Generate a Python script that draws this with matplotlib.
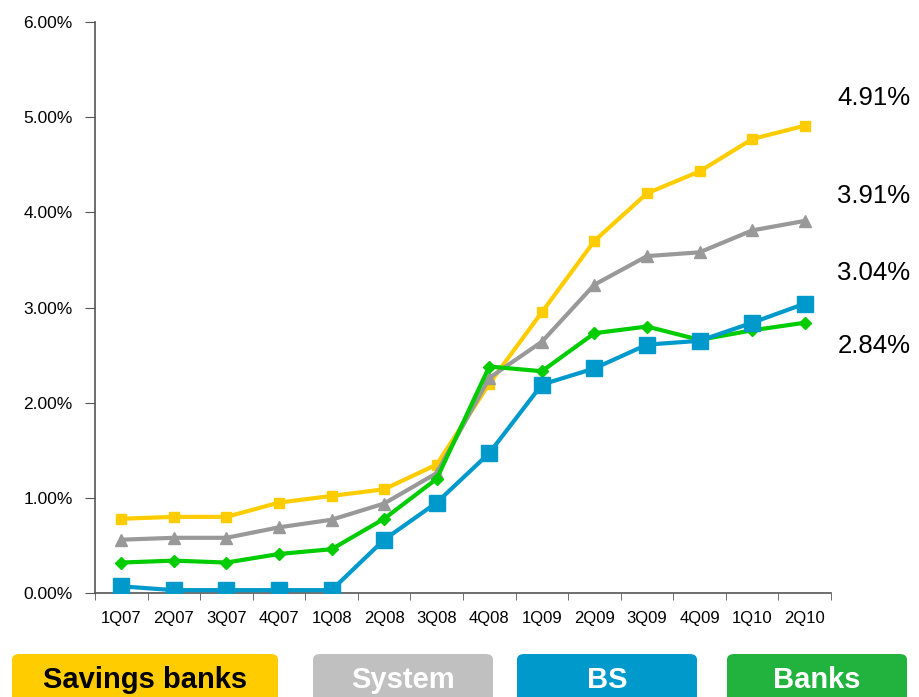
import matplotlib.pyplot as plt
import matplotlib.ticker as plticker
from matplotlib.patches import FancyBboxPatch

quarters = ['1Q07', '2Q07', '3Q07', '4Q07', '1Q08', '2Q08', '3Q08', '4Q08',
            '1Q09', '2Q09', '3Q09', '4Q09', '1Q10', '2Q10']

savings_banks = [0.78, 0.80, 0.80, 0.95, 1.02, 1.09, 1.35, 2.20, 2.95, 3.70, 4.20, 4.43, 4.77, 4.91]
system = [0.56, 0.58, 0.58, 0.69, 0.77, 0.94, 1.26, 2.26, 2.64, 3.24, 3.54, 3.58, 3.81, 3.91]
banks = [0.32, 0.34, 0.32, 0.41, 0.46, 0.78, 1.20, 2.38, 2.33, 2.73, 2.80, 2.66, 2.76, 2.84]
bs = [0.07, 0.03, 0.03, 0.03, 0.03, 0.56, 0.95, 1.47, 2.19, 2.36, 2.61, 2.65, 2.84, 3.04]

plt.rcParams['font.family'] = ['Liberation Sans', 'DejaVu Sans']

W, H = 919, 697
fig = plt.figure(figsize=(W / 100, H / 100), dpi=100)
ax = fig.add_axes([95 / W, 1 - 593 / H, (831 - 95) / W, (593 - 22) / H])

xs = range(len(quarters))
ax.plot(xs, savings_banks, color='#FFCC00', lw=3, marker='s', ms=7, zorder=3)
ax.plot(xs, system, color='#999999', lw=3, marker='^', ms=8.5, zorder=4)
ax.plot(xs, banks, color='#00CC00', lw=3, marker='D', ms=6, zorder=5)
ax.plot(xs, bs, color='#0099CC', lw=3, marker='s', ms=11.5, zorder=6)

# end-of-period values to the right of the plot
end_rows = [(savings_banks[-1], 98), (system[-1], 196), (bs[-1], 273), (banks[-1], 346)]
for val, py in end_rows:
    fig.text(874 / W, 1 - py / H, f'{val:.2f}%', fontsize=18.5,
             ha='center', va='center')

ax.set_xlim(-0.5, len(quarters) - 0.5)
ax.set_ylim(0, 6)
ax.set_xticks(list(xs))
ax.set_xticklabels(quarters, fontsize=12)
ax.xaxis.set_minor_locator(plticker.FixedLocator([i + 0.5 for i in range(-1, len(quarters))]))
ax.tick_params(axis='x', which='major', length=0, pad=13)
ax.tick_params(axis='x', which='minor', length=5, color='#555555')
ax.yaxis.set_major_locator(plticker.MultipleLocator(1))
ax.yaxis.set_major_formatter(plticker.FuncFormatter(lambda v, p: f'{v:.2f}%'))
ax.tick_params(axis='y', labelsize=12.5, length=7, pad=9, color='#555555')
for side in ['top', 'right']:
    ax.spines[side].set_visible(False)
for side in ['left', 'bottom']:
    ax.spines[side].set_color('#555555')
    ax.spines[side].set_linewidth(1.2)

# legend boxes along the bottom edge
legend = [('Savings banks', '#FFCC00', 'black', 12, 278),
          ('System', '#C0C0C0', 'white', 313, 493),
          ('BS', '#0099CC', 'white', 517, 697),
          ('Banks', '#22B33F', 'white', 727, 907)]
for text, face, tc, x0, x1 in legend:
    box = FancyBboxPatch((x0 / W, -0.02), (x1 - x0) / W, (697 - 654) / H + 0.02,
                         boxstyle='round,pad=0,rounding_size=0.008',
                         transform=fig.transFigure, facecolor=face, edgecolor='none')
    fig.patches.append(box)
    fig.text((x0 + x1) / 2 / W, 1 - 680 / H, text, fontsize=21, fontweight='bold',
             color=tc, ha='center', va='center')

fig.savefig('out.png', dpi=100)
